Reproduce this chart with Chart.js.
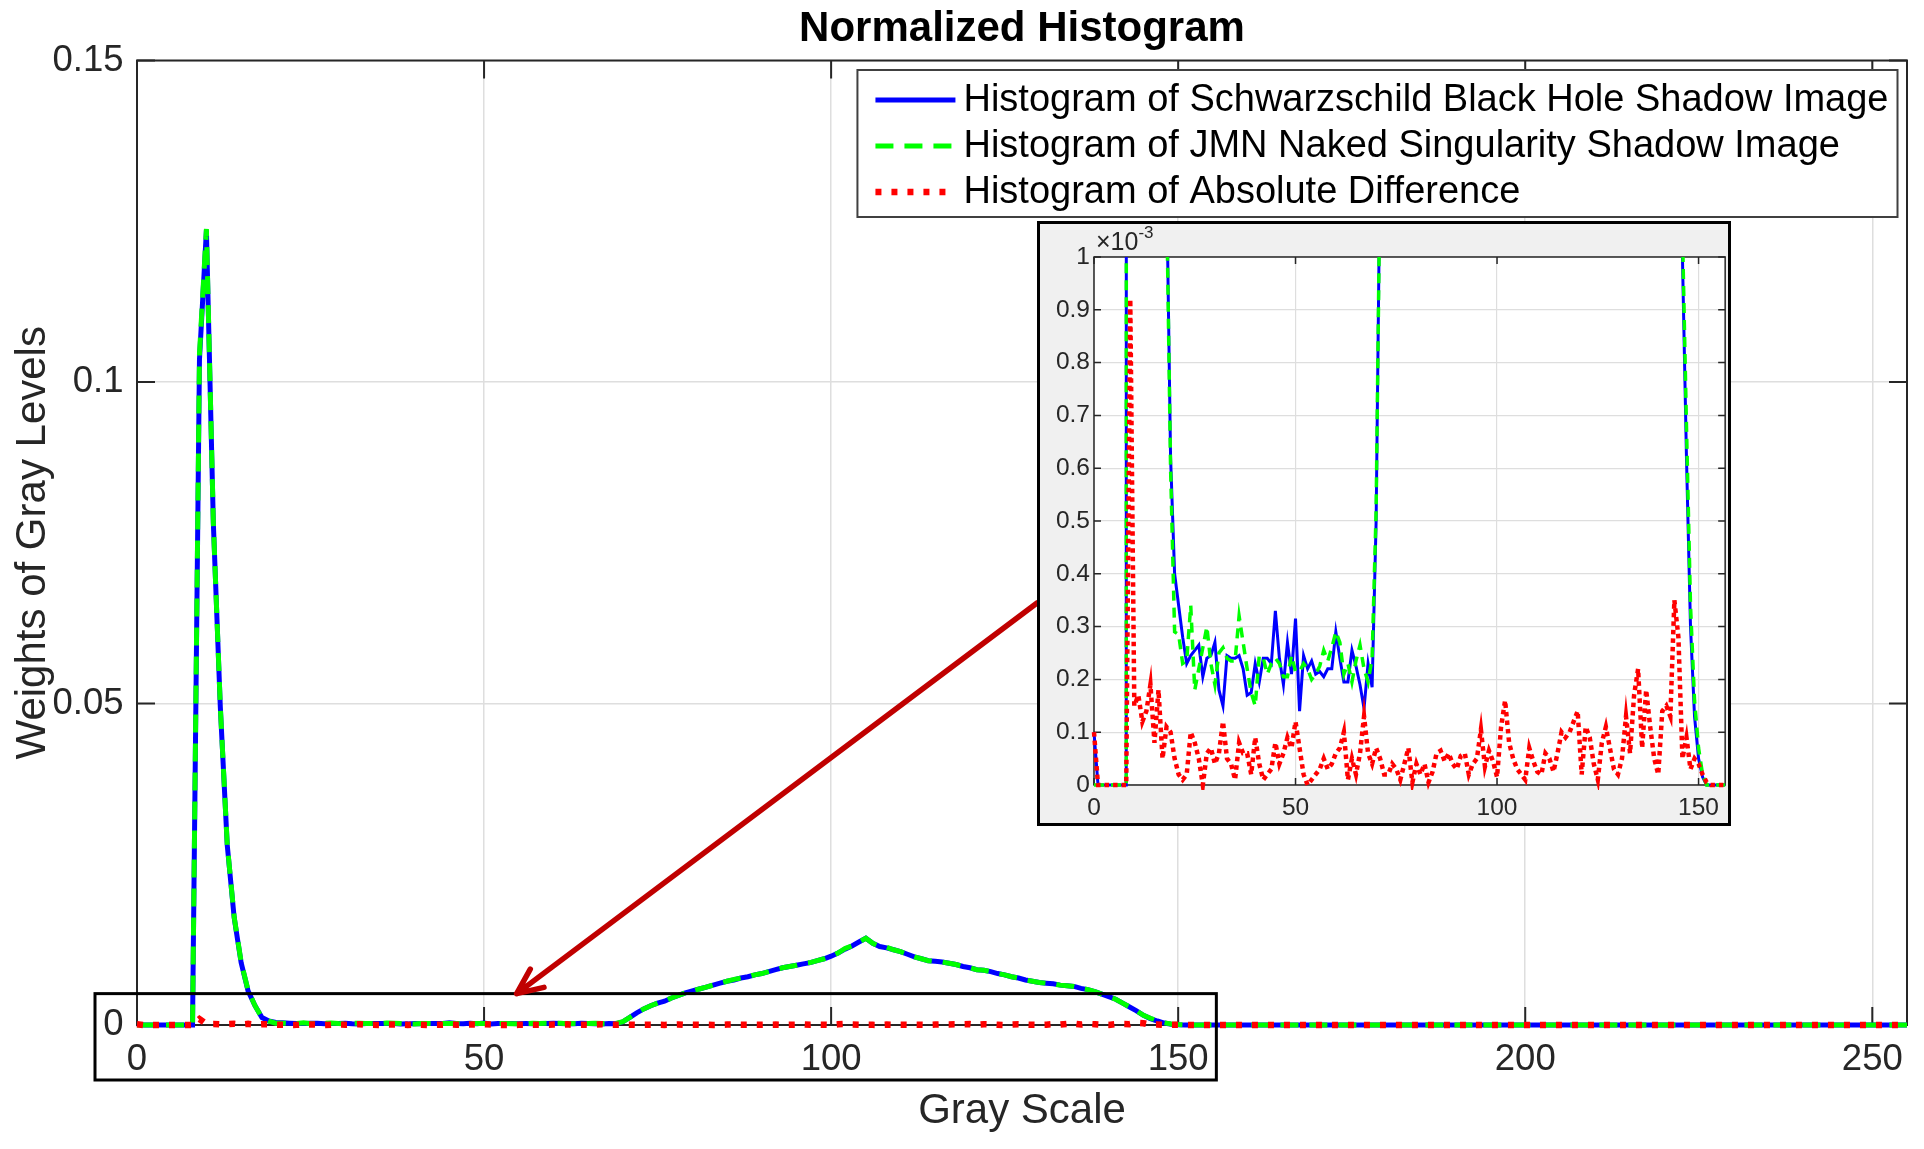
<!DOCTYPE html>
<html>
<head>
<meta charset="utf-8">
<title>Normalized Histogram</title>
<script src="https://cdn.jsdelivr.net/npm/chart.js@4.4.1/dist/chart.umd.min.js"></script>
<style>
  html, body { margin: 0; padding: 0; background: #fff; }
  #page { position: relative; width: 1924px; height: 1149px; overflow: hidden; }
  #main { position: absolute; left: 0; top: 0; }
  #zoom-box {
    position: absolute; left: 1037px; top: 221px; width: 694px; height: 605px;
    box-sizing: border-box; border: 3px solid #000; background: #f0f0f0;
  }
  #zoom { display: block; }
</style>
</head>
<body>
<div id="page">
  <canvas id="main" width="1924" height="1149"></canvas>
  <div id="zoom-box"><canvas id="zoom" width="688" height="599"></canvas></div>
</div>
<script>
const grayLevels = Array.from({ length: 256 }, (_, i) => i)

const schwarzschild = [
  0.0001, 0, 0, 0, 0, 0, 0, 0, 0, 0.1035, 0.1236, 0.078, 0.0495, 0.028, 0.0167, 0.0097,
  0.0053, 0.003, 0.00115, 0.00062, 0.0004, 0.00034, 0.00028, 0.00023, 0.000245, 0.000255, 0.000265, 0.000205, 0.00024, 0.000245, 0.00027, 0.00018,
  0.00015, 0.000245, 0.00024, 0.00024, 0.000245, 0.00022, 0.00017, 0.000175, 0.00023, 0.000195, 0.00024, 0.00024, 0.00023, 0.00033, 0.00024, 0.00019,
  0.00027, 0.00021, 0.000315, 0.00014, 0.000245, 0.00022, 0.000235, 0.00021, 0.000215, 0.000205, 0.00022, 0.00022, 0.00029, 0.00024, 0.000195, 0.000195,
  0.000255, 0.000225, 0.00019, 0.000145, 0.00023, 0.000185, 0.0005, 0.0012, 0.0019, 0.0025, 0.003, 0.0034, 0.0037, 0.0042, 0.0046, 0.005,
  0.0053, 0.0056, 0.0059, 0.0062, 0.0065, 0.0068, 0.007, 0.0073, 0.0075, 0.0078, 0.008, 0.0083, 0.0086, 0.0089, 0.0091, 0.0093,
  0.0095, 0.0097, 0.01, 0.0103, 0.0107, 0.0112, 0.0118, 0.0123, 0.0129, 0.0135, 0.0127, 0.0122, 0.012, 0.0117, 0.0114, 0.011,
  0.0106, 0.0103, 0.01, 0.0099, 0.0098, 0.0096, 0.0094, 0.0091, 0.0089, 0.0086, 0.0085, 0.0083, 0.008, 0.0078, 0.0075, 0.0073,
  0.007, 0.0068, 0.0066, 0.0065, 0.0064, 0.0062, 0.0061, 0.006, 0.0057, 0.0055, 0.0052, 0.0048, 0.0044, 0.004, 0.0034, 0.0028,
  0.0022, 0.0015, 0.001, 0.00062, 0.0003, 0.00013, 0.00005, 0.000015, 0, 0, 0, 0, 0, 0, 0, 0,
  0, 0, 0, 0, 0, 0, 0, 0, 0, 0, 0, 0, 0, 0, 0, 0,
  0, 0, 0, 0, 0, 0, 0, 0, 0, 0, 0, 0, 0, 0, 0, 0,
  0, 0, 0, 0, 0, 0, 0, 0, 0, 0, 0, 0, 0, 0, 0, 0,
  0, 0, 0, 0, 0, 0, 0, 0, 0, 0, 0, 0, 0, 0, 0, 0,
  0, 0, 0, 0, 0, 0, 0, 0, 0, 0, 0, 0, 0, 0, 0, 0,
  0, 0, 0, 0, 0, 0, 0, 0, 0, 0, 0, 0, 0, 0, 0, 0
]

const jmn = [
  0, 0, 0, 0, 0, 0, 0, 0, 0, 0.1044, 0.1238, 0.0781, 0.0496, 0.0281, 0.0168, 0.0098,
  0.0054, 0.003, 0.00112, 0.0006, 0.00029, 0.000285, 0.00023, 0.000235, 0.00034, 0.00018, 0.00022, 0.00026, 0.0003, 0.00023, 0.00019, 0.00025,
  0.00026, 0.00024, 0.000235, 0.000235, 0.00032, 0.00027, 0.00022, 0.000175, 0.00015, 0.000245, 0.00024, 0.00021, 0.00023, 0.00024, 0.00023, 0.000205,
  0.000205, 0.000245, 0.000215, 0.000215, 0.00023, 0.00022, 0.0002, 0.00021, 0.000225, 0.000255, 0.000235, 0.00026, 0.00029, 0.00027, 0.00021, 0.00023,
  0.000195, 0.000235, 0.000265, 0.00022, 0.000195, 0.00024, 0.00052, 0.00118, 0.0019, 0.0025, 0.003, 0.0034, 0.0037, 0.0042, 0.0046, 0.005,
  0.0053, 0.0056, 0.0059, 0.0062, 0.0065, 0.0068, 0.0071, 0.0073, 0.0075, 0.0078, 0.008, 0.0083, 0.0086, 0.0089, 0.0091, 0.0093,
  0.0096, 0.0097, 0.01, 0.0103, 0.0107, 0.0112, 0.0119, 0.0123, 0.0129, 0.0135, 0.0127, 0.0122, 0.0121, 0.0117, 0.0114, 0.011,
  0.0106, 0.0103, 0.01, 0.0099, 0.0098, 0.0096, 0.0094, 0.0091, 0.0089, 0.0086, 0.0085, 0.0083, 0.008, 0.0078, 0.0075, 0.0073,
  0.007, 0.0068, 0.0066, 0.0065, 0.0064, 0.0062, 0.0061, 0.006, 0.0057, 0.0055, 0.0052, 0.0048, 0.0044, 0.004, 0.0034, 0.0028,
  0.0022, 0.0015, 0.00105, 0.00068, 0.00034, 0.00016, 0.00007, 0.00002, 0, 0, 0, 0, 0, 0, 0, 0,
  0, 0, 0, 0, 0, 0, 0, 0, 0, 0, 0, 0, 0, 0, 0, 0,
  0, 0, 0, 0, 0, 0, 0, 0, 0, 0, 0, 0, 0, 0, 0, 0,
  0, 0, 0, 0, 0, 0, 0, 0, 0, 0, 0, 0, 0, 0, 0, 0,
  0, 0, 0, 0, 0, 0, 0, 0, 0, 0, 0, 0, 0, 0, 0, 0,
  0, 0, 0, 0, 0, 0, 0, 0, 0, 0, 0, 0, 0, 0, 0, 0,
  0, 0, 0, 0, 0, 0, 0, 0, 0, 0, 0, 0, 0, 0, 0, 0
]

const difference = [
  0.0001, 0, 0, 0, 0, 0, 0, 0, 0, 0.00092, 0.00015, 0.00017, 0.00012, 0.00014, 0.00019, 0.00008,
  0.00018, 0.00005, 0.00011, 0.0001, 0.00005, 0.00002, 0.00001, 0.00002, 0.0001, 0.00008, 0.00005, 0, 0.00006, 0.00007, 0.00004, 0.00006,
  0.00012, 0.00005, 0.00004, 0.00001, 0.00008, 0.00006, 0.00006, 0.00002, 0.00009, 0.00004, 0.00001, 0.00002, 0.00003, 0.00008, 0.00004, 0.00006,
  0.00009, 0.00007, 0.00012, 0.00007, 0.00002, 0, 0.00001, 0.00002, 0.00003, 0.00005, 0.00003, 0.00004, 0.00006, 0.00007, 0.0001, 0.00001,
  0.00005, 0.00002, 0.00006, 0.00013, 0.00006, 0.00004, 0.00007, 0.00005, 0.00002, 0.00002, 0.00004, 0.00003, 0.00001, 0.00004, 0.00007, 0.000005,
  0.00004, 0.00002, 0.00004, 0.000005, 0.000025, 0.00006, 0.000065, 0.000045, 0.00006, 0.00004, 0.00003, 0.000055, 0.00006, 0.00002, 0.00004, 0.00005,
  0.000105, 0.000035, 0.000065, 0.000045, 0.000015, 0.00011, 0.00016, 0.00008, 0.00005, 0.00003, 0.00002, 0.00001, 0.00007, 0.000045, 0.000025, 0.00002,
  0.00006, 0.00005, 0.000025, 0.00006, 0.0001, 0.00009, 0.0001, 0.00012, 0.00014, 0.00002, 0.00011, 0.00009, 0.00004, 0.00001, 0.00008, 0.00011,
  0.00007, 0.00003, 0.00002, 0.00005, 0.00013, 0.00006, 0.00017, 0.00022, 0.00007, 0.00018, 0.00011, 0.00005, 0.00002, 0.00014, 0.00015, 0.00013,
  0.00035, 0.00028, 0.00005, 0.00009, 0.00003, 0.00005, 0.00004, 0.00002, 0.000005, 0, 0, 0, 0, 0, 0, 0,
  0, 0, 0, 0, 0, 0, 0, 0, 0, 0, 0, 0, 0, 0, 0, 0,
  0, 0, 0, 0, 0, 0, 0, 0, 0, 0, 0, 0, 0, 0, 0, 0,
  0, 0, 0, 0, 0, 0, 0, 0, 0, 0, 0, 0, 0, 0, 0, 0,
  0, 0, 0, 0, 0, 0, 0, 0, 0, 0, 0, 0, 0, 0, 0, 0,
  0, 0, 0, 0, 0, 0, 0, 0, 0, 0, 0, 0, 0, 0, 0, 0,
  0, 0, 0, 0, 0, 0, 0, 0, 0, 0, 0, 0, 0, 0, 0, 0
]

const seriesNames = [
  'Histogram of Schwarzschild Black Hole Shadow Image',
  'Histogram of JMN Naked Singularity Shadow Image',
  'Histogram of Absolute Difference'
]
const seriesColors = ['#0000ff', '#00ff00', '#ff0000']

const mainXTicks = [0, 50, 100, 150, 200, 250]
const mainYTicks = [0, 0.05, 0.1, 0.15]
const zoomXTicks = [0, 50, 100, 150]
const zoomYTicks = [0, 0.0001, 0.0002, 0.0003, 0.0004, 0.0005, 0.0006, 0.0007, 0.0008, 0.0009, 0.001]

const font = '"Liberation Sans", Arial, Helvetica, sans-serif'
const axisColor = '#262626'
const gridColor = '#dedede'
const arrowColor = '#c00000'

function buildDatasets(widths, dashes, clip) {
  return [schwarzschild, jmn, difference].map((values, i) => ({
    label: seriesNames[i],
    data: values.map((y, k) => ({ x: grayLevels[k], y })),
    borderColor: seriesColors[i],
    borderWidth: widths[i],
    borderDash: dashes[i],
    borderCapStyle: 'butt',
    pointRadius: 0,
    tension: 0,
    clip: clip,
    order: 3 - i
  }))
}

function fixedTicks(values) {
  return (scale) => {
    scale.ticks = values.map((value) => ({ value }))
  }
}

// box round the axes with ticks pointing inwards, as matlab does
const axesFrame = {
  id: 'axesFrame',
  beforeDatasetsDraw(chart, args, opts) {
    const { ctx, chartArea: { left, top, right, bottom }, scales: { x, y } } = chart
    ctx.save()
    ctx.strokeStyle = opts.color
    ctx.lineWidth = opts.width
    ctx.strokeRect(left, top, right - left, bottom - top)
    ctx.beginPath()
    x.ticks.forEach(({ value }) => {
      const px = x.getPixelForValue(value)
      ctx.moveTo(px, bottom)
      ctx.lineTo(px, bottom - opts.tickLength)
      ctx.moveTo(px, top)
      ctx.lineTo(px, top + opts.tickLength)
    })
    y.ticks.forEach(({ value }) => {
      const py = y.getPixelForValue(value)
      ctx.moveTo(left, py)
      ctx.lineTo(left + opts.tickLength, py)
      ctx.moveTo(right, py)
      ctx.lineTo(right - opts.tickLength, py)
    })
    ctx.stroke()
    ctx.restore()
  }
}

const plotBackground = {
  id: 'plotBackground',
  beforeDraw(chart) {
    const { ctx, chartArea: { left, top, right, bottom } } = chart
    ctx.save()
    ctx.fillStyle = '#fff'
    ctx.fillRect(left, top, right - left, bottom - top)
    ctx.restore()
  }
}

const exponentLabel = {
  id: 'exponentLabel',
  afterDraw(chart) {
    const { ctx, chartArea } = chart
    const x = chartArea.left + 2
    const y = chartArea.top - 7
    ctx.save()
    ctx.fillStyle = axisColor
    ctx.textBaseline = 'alphabetic'
    ctx.font = `25px ${font}`
    ctx.fillText('\u00d710', x, y)
    const w = ctx.measureText('\u00d710').width
    ctx.font = `17px ${font}`
    ctx.fillText('-3', x + w, y - 12)
    ctx.restore()
  }
}

function drawLegend(chart) {
  const { ctx, chartArea } = chart
  const sample = 80
  ctx.save()
  ctx.font = `38px ${font}`
  const textWidth = Math.max(...chart.data.datasets.map((d) => ctx.measureText(d.label).width))
  const width = 18 + sample + 8 + textWidth + 9
  const right = chartArea.right - 9.5
  const left = right - width
  const top = chartArea.top + 9.5
  const height = 147
  ctx.fillStyle = '#fff'
  ctx.fillRect(left, top, width, height)
  ctx.strokeStyle = '#404040'
  ctx.lineWidth = 2
  ctx.strokeRect(left, top, width, height)

  chart.data.datasets.forEach((d, i) => {
    const cy = top + 30 + i * 46
    ctx.beginPath()
    ctx.setLineDash(d.borderDash)
    ctx.lineCap = 'butt'
    ctx.strokeStyle = d.borderColor
    ctx.lineWidth = d.borderWidth
    ctx.moveTo(left + 18, cy)
    ctx.lineTo(left + 18 + sample, cy)
    ctx.stroke()
    ctx.setLineDash([])
    ctx.fillStyle = '#000'
    ctx.textBaseline = 'middle'
    ctx.fillText(d.label, left + 18 + sample + 8, cy + 1)
  })
  ctx.restore()
}

function drawZoomMarker(chart) {
  const { ctx, chartArea, scales: { x, y } } = chart
  const box = document.getElementById('zoom-box')
  const tip = { x: x.getPixelForValue(54.7), y: y.getPixelForValue(0.00488) }
  const start = { x: box.offsetLeft, y: box.offsetTop + 382 }

  ctx.save()
  ctx.strokeStyle = '#000'
  ctx.lineWidth = 3
  const left = x.getPixelForValue(0) - 42
  const right = x.getPixelForValue(155.5)
  ctx.strokeRect(left, tip.y, right - left, chartArea.bottom + 55 - tip.y)

  const angle = Math.atan2(start.y - tip.y, start.x - tip.x)
  ctx.strokeStyle = arrowColor
  ctx.lineWidth = 5.5
  ctx.lineCap = 'round'
  ctx.beginPath()
  ctx.moveTo(start.x, start.y)
  ctx.lineTo(tip.x, tip.y)
  for (const side of [-1, 1]) {
    ctx.moveTo(tip.x, tip.y)
    ctx.lineTo(tip.x + 28 * Math.cos(angle + side * 0.42), tip.y + 28 * Math.sin(angle + side * 0.42))
  }
  ctx.stroke()
  ctx.restore()
}

const mainOverlay = {
  id: 'mainOverlay',
  afterDraw(chart) {
    drawLegend(chart)
    drawZoomMarker(chart)
  }
}

new Chart(document.getElementById('main'), {
  type: 'line',
  data: { datasets: buildDatasets([5, 5, 6.5], [[], [18, 11], [6, 10]], 10) },
  options: {
    responsive: false,
    animation: false,
    layout: { padding: { left: 0, right: 17, top: 0, bottom: 0 } },
    plugins: {
      legend: { display: false },
      tooltip: { enabled: false },
      title: {
        display: true,
        fullSize: false,
        text: 'Normalized Histogram',
        color: '#000',
        font: { family: font, size: 42, weight: 'bold' },
        padding: { top: 4, bottom: 6.1 }
      },
      axesFrame: { color: axisColor, width: 2, tickLength: 18 }
    },
    scales: {
      x: {
        type: 'linear',
        min: 0,
        max: 255,
        afterBuildTicks: fixedTicks(mainXTicks),
        afterFit: (scale) => { scale.height = 124 },
        border: { display: false },
        grid: { color: gridColor, lineWidth: 1.5, drawTicks: false },
        ticks: {
          color: axisColor,
          font: { family: font, size: 36.5 },
          padding: 13,
          maxRotation: 0,
          autoSkip: false,
          callback: (v) => String(v)
        },
        title: {
          display: true,
          text: 'Gray Scale',
          color: axisColor,
          font: { family: font, size: 42 },
          padding: { top: 0, bottom: 12 }
        }
      },
      y: {
        type: 'linear',
        min: 0,
        max: 0.15,
        afterBuildTicks: fixedTicks(mainYTicks),
        afterFit: (scale) => { scale.width = 137 },
        border: { display: false },
        grid: { color: gridColor, lineWidth: 1.5, drawTicks: false },
        ticks: {
          color: axisColor,
          font: { family: font, size: 36.5 },
          padding: 13.5,
          callback: (v) => String(v)
        },
        title: {
          display: true,
          text: 'Weights of Gray Levels',
          color: axisColor,
          font: { family: font, size: 42 },
          padding: 8.5
        }
      }
    }
  },
  plugins: [axesFrame, mainOverlay]
})

new Chart(document.getElementById('zoom'), {
  type: 'line',
  data: {
    datasets: buildDatasets([3, 3.5, 4.5], [[], [10, 7], [4.5, 4]], { left: 5, top: 0, right: 0, bottom: 5 })
  },
  options: {
    responsive: false,
    animation: false,
    layout: { padding: { left: 0, right: 0, top: 33, bottom: 0 } },
    plugins: {
      legend: { display: false },
      tooltip: { enabled: false },
      axesFrame: { color: axisColor, width: 1.5, tickLength: 7 }
    },
    scales: {
      x: {
        type: 'linear',
        min: 0,
        max: 156.6,
        afterBuildTicks: fixedTicks(zoomXTicks),
        afterFit: (scale) => { scale.height = 38 },
        border: { display: false },
        grid: { color: gridColor, lineWidth: 1.2, drawTicks: false },
        ticks: {
          color: axisColor,
          font: { family: font, size: 24.5 },
          padding: 9,
          maxRotation: 0,
          autoSkip: false,
          callback: (v) => String(v)
        }
      },
      y: {
        type: 'linear',
        min: 0,
        max: 0.001,
        afterBuildTicks: fixedTicks(zoomYTicks),
        afterFit: (scale) => { scale.width = 54 },
        border: { display: false },
        grid: { color: gridColor, lineWidth: 1.2, drawTicks: false },
        ticks: {
          color: axisColor,
          font: { family: font, size: 24.5 },
          padding: 4,
          callback: (v) => String(Math.round(v * 1e4) / 10)
        }
      }
    }
  },
  plugins: [plotBackground, axesFrame, exponentLabel]
})
</script>
</body>
</html>
